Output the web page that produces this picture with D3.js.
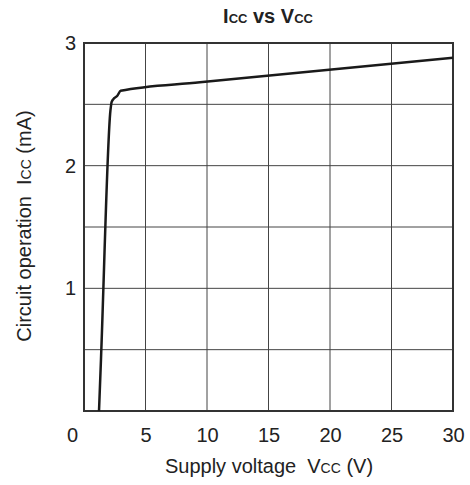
<!DOCTYPE html>
<html>
<head>
<meta charset="utf-8">
<script src="https://cdn.jsdelivr.net/npm/d3@7"></script>
<style>
  body { margin: 0; background: #fff; }
  text { font-family: "Liberation Sans", Arial, sans-serif; fill: #222; }
</style>
</head>
<body>
<svg id="chart" width="470" height="485"></svg>
<script>
// Data
const vcc = [1.22, 1.38, 2.15, 2.25, 2.46, 2.71, 2.98, 9.43, 30];
const icc = [0.00, 0.42, 2.45, 2.52, 2.55, 2.57, 2.61, 2.68, 2.88];
const xTicks = [0, 5, 10, 15, 20, 25, 30];
const yTicks = [1, 2, 3];
const xGrid = [5, 10, 15, 20, 25];
const yGrid = [0.5, 1, 1.5, 2, 2.5];

(function () {
const svg = d3.select("#chart");
const mL = 84, mR = 453, mT = 43, mB = 411;
const x = d3.scaleLinear().domain([0, 30]).range([mL, mR]);
const y = d3.scaleLinear().domain([0, 3]).range([mB, mT]);
const FONT = "Liberation Sans, Arial, sans-serif";

// grid
svg.append("g").selectAll("line").data(xGrid).join("line")
  .attr("x1", d => x(d)).attr("x2", d => x(d))
  .attr("y1", mT).attr("y2", mB)
  .attr("stroke", "#444").attr("stroke-width", 1);
svg.append("g").selectAll("line").data(yGrid).join("line")
  .attr("x1", mL).attr("x2", mR)
  .attr("y1", d => y(d)).attr("y2", d => y(d))
  .attr("stroke", "#444").attr("stroke-width", 1);

// border
svg.append("rect").attr("x", mL).attr("y", mT)
  .attr("width", mR - mL).attr("height", mB - mT)
  .attr("fill", "none").attr("stroke", "#333").attr("stroke-width", 2);

// curve
const pts = vcc.map((v, i) => [v, icc[i]]);
svg.append("path").datum(pts)
  .attr("d", d3.line().x(d => x(d[0])).y(d => y(d[1])).curve(d3.curveMonotoneX))
  .attr("fill", "none").attr("stroke", "#1a1a1a").attr("stroke-width", 2.5)
  .attr("stroke-linejoin", "round");

// x axis
const xAxis = svg.append("g").attr("transform", `translate(0,${mB})`)
  .call(d3.axisBottom(x).tickValues(xTicks).tickSize(0).tickPadding(17).tickFormat(d3.format("d")));
xAxis.select(".domain").remove();
xAxis.selectAll("text").attr("font-size", 20).attr("fill", "#222")
  .attr("font-family", FONT)
  .attr("dx", d => d === 0 ? -12 : 0);

// y axis
const yAxis = svg.append("g").attr("transform", `translate(${mL},0)`)
  .call(d3.axisLeft(y).tickValues(yTicks).tickSize(0).tickPadding(8).tickFormat(d3.format("d")));
yAxis.select(".domain").remove();
yAxis.selectAll("text").attr("font-size", 20).attr("fill", "#222")
  .attr("font-family", FONT);

// title
const t = svg.append("text").attr("x", 268).attr("y", 23)
  .attr("text-anchor", "middle").attr("font-size", 20).attr("font-weight", "bold");
t.append("tspan").text("I");
t.append("tspan").attr("font-size", 13).text("CC");
t.append("tspan").text(" vs V");
t.append("tspan").attr("font-size", 13).text("CC");

// x label
const xl = svg.append("text").attr("x", 269).attr("y", 473)
  .attr("text-anchor", "middle").attr("font-size", 20);
xl.append("tspan").text("Supply voltage\u00a0\u00a0V");
xl.append("tspan").attr("font-size", 14).text("CC");
xl.append("tspan").text(" (V)");

// y label
const yl = svg.append("text")
  .attr("transform", `translate(31,226) rotate(-90)`)
  .attr("text-anchor", "middle").attr("font-size", 20);
yl.append("tspan").text("Circuit operation\u00a0\u00a0I");
yl.append("tspan").attr("font-size", 14).text("CC");
yl.append("tspan").text(" (mA)");
})();
</script>
</body>
</html>
